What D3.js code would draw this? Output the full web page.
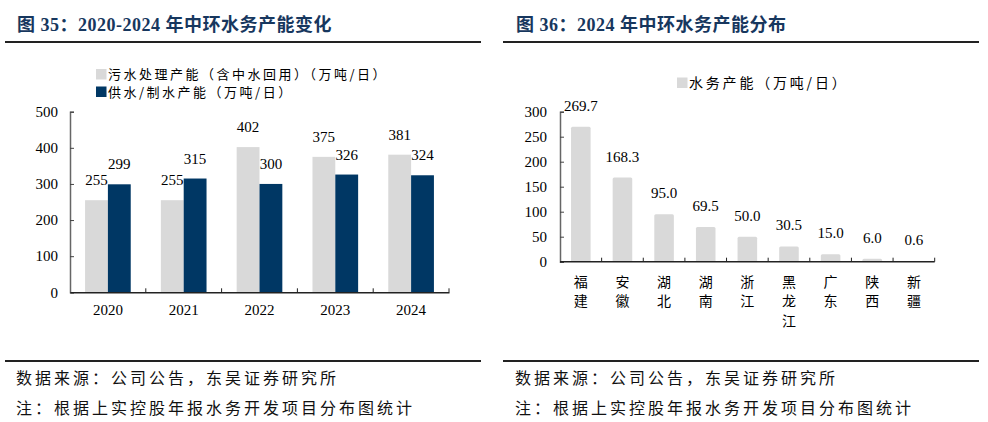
<!DOCTYPE html>
<html lang="zh">
<head>
<meta charset="UTF-8">
<title>中环水务产能</title>
<script src="https://d3js.org/d3.v7.min.js"></script>
<style>
  body { margin: 0; background: #fff; }
  svg { display: block; }
  .num { font-family: "Liberation Serif", "Times New Roman", serif; font-size: 15px; fill: #000; }
  .cjk { font-family: "Noto Sans CJK SC", sans-serif; }
  .title { font-family: "Liberation Serif", "Noto Sans CJK SC", serif; font-weight: bold; font-size: 18px; fill: #17375e; letter-spacing: 0.5px; }
  .note { font-family: "Noto Sans CJK SC", sans-serif; font-size: 16px; fill: #111; letter-spacing: 3px; }
</style>
</head>
<body>
<svg id="chart" width="988" height="422"></svg>
<script>
// 图35 数据
const years = ["2020", "2021", "2022", "2023", "2024"];
const sewageCap = [255, 255, 402, 375, 381];   // 污水处理产能（含中水回用）
const supplyCap = [299, 315, 300, 326, 324];   // 供水/制水产能
const leftSeries = ["污水处理产能（含中水回用）（万吨/日）", "供水/制水产能（万吨/日）"];
const leftTicks = [0, 100, 200, 300, 400, 500];

// 图36 数据
const provinces = ["福建", "安徽", "湖北", "湖南", "浙江", "黑龙江", "广东", "陕西", "新疆"];
const provCap = [269.7, 168.3, 95.0, 69.5, 50.0, 30.5, 15.0, 6.0, 0.6];
const rightSeries = "水务产能（万吨/日）";
const rightTicks = [0, 50, 100, 150, 200, 250, 300];

const grey = "#d9d9d9", navy = "#003764";
const svg = d3.select("#chart");

// ---- panel frame: titles, rules, notes
function frame(x0, x1, tx, title) {
    svg.append("text").attr("class", "title").attr("x", tx).attr("y", 31).text(title);
    svg.append("line").attr("x1", x0).attr("x2", x1).attr("y1", 42).attr("y2", 42)
        .attr("stroke", "#222").attr("stroke-width", 2);
    svg.append("line").attr("x1", x0).attr("x2", x1).attr("y1", 361).attr("y2", 361)
        .attr("stroke", "#222").attr("stroke-width", 2);
    svg.append("text").attr("class", "note").attr("x", tx - 1).attr("y", 384).text("数据来源：公司公告，东吴证券研究所");
    svg.append("text").attr("class", "note").attr("x", tx - 1).attr("y", 414).text("注：根据上实控股年报水务开发项目分布图统计");
}
frame(5, 481, 17, "图 35：2020-2024 年中环水务产能变化");
frame(503, 979, 516, "图 36：2024 年中环水务产能分布");

// ---- left chart
{
    const left = 70, right = 449, top = 111.7, bottom = 292.3;
    const g = svg.append("g");
    const x0 = d3.scaleBand().domain(years).range([left, right]);
    const x1 = d3.scaleBand().domain([0, 1]).range([0, x0.bandwidth()]).paddingOuter(0.66);
    const y = d3.scaleLinear().domain([0, 500]).range([bottom, top]);

    const rows = years.map((yr, i) => ({ yr, vals: [sewageCap[i], supplyCap[i]] }));
    const grp = g.selectAll(".yr").data(rows).join("g").attr("transform", d => `translate(${x0(d.yr)},0)`);
    grp.selectAll("rect").data(d => d.vals.map((v, k) => ({ v, k }))).join("rect")
        .attr("x", d => x1(d.k)).attr("width", x1.bandwidth())
        .attr("y", d => y(d.v)).attr("height", d => y(0) - y(d.v))
        .attr("fill", d => d.k === 0 ? grey : navy);
    grp.selectAll("text").data(d => d.vals.map((v, k) => ({ v, k }))).join("text")
        .attr("class", "num").attr("text-anchor", "middle")
        .attr("x", d => x1(d.k) + x1.bandwidth() / 2).attr("y", d => y(d.v) - 15)
        .text(d => d.v);

    const ya = g.append("g").attr("transform", `translate(${left},0)`)
        .call(d3.axisLeft(y).tickValues(leftTicks).tickSize(-4).tickPadding(12));
    ya.select(".domain").attr("stroke", "#666").attr("stroke-width", 1.5);
    ya.selectAll(".tick line").attr("stroke", "#444");
    ya.selectAll("text").attr("class", "num");

    const xa = g.append("g").attr("transform", `translate(0,${bottom})`)
        .call(d3.axisBottom(x0).tickSize(0).tickPadding(12));
    xa.select(".domain").attr("stroke", "#222").attr("stroke-width", 1.5);
    xa.selectAll("text").attr("class", "num");
    g.selectAll(".xt").data(years).join("line")
        .attr("x1", d => x0(d) + x0.bandwidth()).attr("x2", d => x0(d) + x0.bandwidth())
        .attr("y1", bottom).attr("y2", bottom - 4).attr("stroke", "#222");

    const lg = g.selectAll(".lg").data(leftSeries).join("g")
        .attr("transform", (d, i) => `translate(96,${69 + i * 17.5})`);
    lg.append("rect").attr("width", 10.5).attr("height", 10.5).attr("fill", (d, i) => i ? navy : grey);
    lg.append("text").attr("class", "cjk").attr("x", 12).attr("y", 10)
        .style("font-size", "13px").style("letter-spacing", "2.5px").text(d => d);
}

// ---- right chart
{
    const left = 560, right = 934.7, top = 111.7, bottom = 261.7;
    const g = svg.append("g");
    const x = d3.scaleBand().domain(provinces).range([left, right]).paddingInner(0.53).paddingOuter(0.265);
    const xb = d3.scaleBand().domain(provinces).range([left, right]);
    const y = d3.scaleLinear().domain([0, 300]).range([bottom, top]);

    g.selectAll("rect").data(provinces).join("rect")
        .attr("x", d => x(d)).attr("width", x.bandwidth())
        .attr("y", (d, i) => y(provCap[i])).attr("height", (d, i) => y(0) - y(provCap[i]))
        .attr("rx", 1.5).attr("fill", grey);
    g.selectAll(".val").data(provinces).join("text")
        .attr("class", "num").attr("text-anchor", "middle")
        .attr("x", d => x(d) + x.bandwidth() / 2).attr("y", (d, i) => y(provCap[i]) - 16)
        .text((d, i) => provCap[i].toFixed(1));

    const ya = g.append("g").attr("transform", `translate(${left},0)`)
        .call(d3.axisLeft(y).tickValues(rightTicks).tickSize(-4).tickPadding(13));
    ya.select(".domain").attr("stroke", "#666").attr("stroke-width", 1.5);
    ya.selectAll(".tick line").attr("stroke", "#444");
    ya.selectAll("text").attr("class", "num");

    g.append("line").attr("x1", left).attr("x2", right).attr("y1", bottom).attr("y2", bottom)
        .attr("stroke", "#222").attr("stroke-width", 1.5);
    g.selectAll(".xt").data(provinces).join("line")
        .attr("x1", d => xb(d) + xb.bandwidth()).attr("x2", d => xb(d) + xb.bandwidth())
        .attr("y1", bottom).attr("y2", bottom - 4).attr("stroke", "#222");

    const xl = g.selectAll(".xl").data(provinces).join("text")
        .attr("class", "cjk").attr("text-anchor", "middle").style("font-size", "14px");
    xl.selectAll("tspan").data(d => d.split("").map(c => ({ c, cx: xb(d) + xb.bandwidth() / 2 }))).join("tspan")
        .attr("x", d => d.cx).attr("y", (d, i) => bottom + 25 + i * 19.5).text(d => d.c);

    const lg = g.append("g").attr("transform", "translate(677,77.5)");
    lg.append("rect").attr("width", 10.5).attr("height", 10.5).attr("fill", grey);
    lg.append("text").attr("class", "cjk").attr("x", 12).attr("y", 10.5)
        .style("font-size", "14px").style("letter-spacing", "2.8px").text(rightSeries);
}
</script>
</body>
</html>
